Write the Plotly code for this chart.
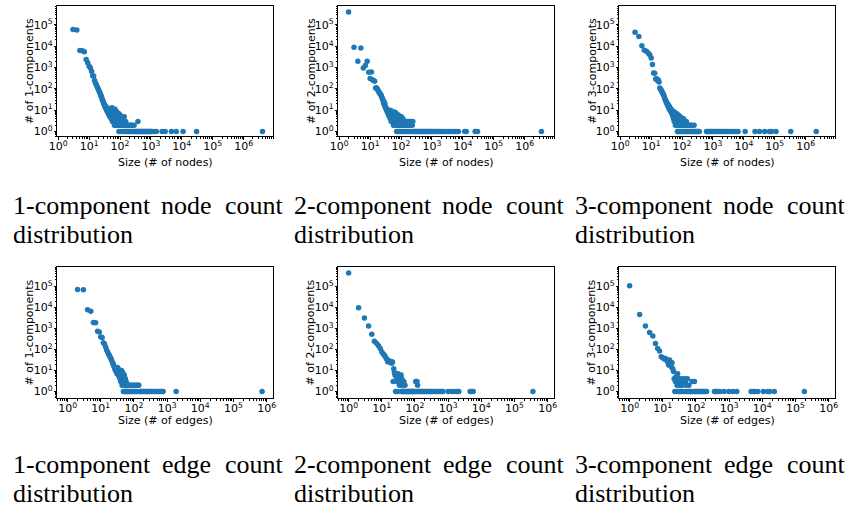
import plotly.graph_objects as go

# ---------------- data ----------------
# 1-component node counts
n1_size = [3, 4, 5, 6, 7, 8, 9, 10, 11, 12,
           13, 14, 15, 16, 17, 18, 19, 20, 21, 22,
           23, 24, 25, 26, 27, 28, 29, 30, 31, 32,
           33, 34, 35, 36, 37, 38, 39, 40, 41, 42,
           43, 44, 45, 46, 47, 48, 49, 50, 51, 52,
           53, 54, 55, 56, 57, 58, 59, 60, 61, 62,
           63, 64, 65, 66, 67, 68, 69, 70, 71, 72,
           73, 74, 75, 76, 77, 78, 79, 80, 82, 84,
           86, 88, 90, 92, 94, 96, 98, 100, 103, 106,
           109, 112, 115, 118, 121, 125, 129, 133, 137, 142,
           147, 152, 158, 164, 170, 177, 184, 192, 200, 210,
           220, 230, 240, 255, 270, 285, 300, 320, 340, 360,
           380, 400, 425, 450, 480, 510, 540, 580, 620, 660,
           700, 750, 800, 860, 920, 980, 1050, 1250, 1500, 2300,
           2900, 4600, 6600, 11000, 30000, 4100000]
n1_count = [62000, 58000, 6300, 6100, 5500, 2400, 1700, 1150, 950, 680,
            420, 400, 250, 190, 160, 130, 110, 95, 80, 68,
            58, 50, 42, 36, 30, 27, 24, 20, 18, 16,
            14, 13, 15, 11, 10, 12, 9, 8, 11, 7,
            9, 6, 10, 8, 5, 12, 7, 6, 9, 4,
            8, 5, 13, 6, 3, 7, 9, 4, 6, 10,
            3, 5, 8, 2, 6, 4, 11, 3, 5, 7,
            2, 4, 9, 3, 6, 2, 5, 8, 3, 6,
            2, 4, 7, 1, 5, 3, 2, 6, 4, 2,
            5, 1, 3, 2, 4, 1, 3, 2, 5, 1,
            2, 3, 1, 2, 1, 2, 1, 2, 1, 2,
            1, 2, 1, 2, 1, 2, 1, 1, 1, 1,
            3, 1, 1, 1, 1, 1, 1, 1, 1, 1,
            1, 1, 1, 1, 1, 1, 1, 1, 1, 1,
            1, 1, 1, 1, 1, 1]

# 2-component node counts
n2_size = [2, 3, 4, 5, 6, 7, 8, 9, 10, 11,
           12, 13, 14, 15, 16, 17, 18, 19, 20, 21,
           22, 23, 24, 25, 26, 27, 28, 29, 30, 31,
           32, 33, 34, 35, 36, 37, 38, 39, 40, 41,
           42, 43, 44, 45, 46, 47, 48, 49, 50, 51,
           52, 53, 54, 55, 56, 57, 58, 59, 60, 61,
           62, 63, 64, 65, 66, 67, 68, 69, 70, 71,
           72, 73, 74, 75, 76, 77, 78, 79, 80, 82,
           84, 86, 88, 90, 92, 94, 96, 98, 100, 103,
           106, 109, 112, 115, 118, 121, 125, 129, 133, 137,
           142, 147, 152, 158, 164, 170, 177, 184, 192, 200,
           210, 220, 230, 240, 250, 270, 290, 310, 340, 370,
           400, 440, 480, 520, 570, 620, 680, 740, 810, 880,
           960, 1050, 1150, 1300, 1450, 1600, 1800, 2000, 2300, 2600,
           3000, 3500, 4000, 5000, 6000, 7200, 11500, 13000, 25000, 30000,
           3500000]
n2_count = [400000, 9000, 2000, 8300, 970, 1250, 2000, 600, 310, 620,
            260, 250, 230, 110, 115, 100, 85, 75, 65, 60,
            55, 48, 40, 35, 30, 22, 25, 17, 20, 14,
            13, 11, 12, 9, 10, 8, 7, 9, 6, 8,
            5, 7, 10, 4, 6, 8, 3, 5, 7, 9,
            4, 6, 3, 8, 5, 2, 6, 4, 7, 3,
            5, 2, 8, 4, 6, 3, 5, 2, 7, 4,
            1, 5, 3, 6, 2, 4, 1, 5, 3, 6,
            2, 4, 1, 5, 3, 2, 4, 1, 3, 5,
            2, 3, 1, 4, 2, 3, 1, 2, 3, 1,
            2, 3, 1, 2, 3, 1, 2, 3, 1, 2,
            3, 1, 2, 3, 1, 1, 1, 1, 1, 1,
            1, 1, 1, 1, 1, 1, 1, 1, 1, 1,
            1, 1, 1, 1, 1, 1, 1, 1, 1, 1,
            1, 1, 1, 1, 1, 1, 1, 1, 1, 1,
            1]

# 3-component node counts
n3_size = [3, 4, 5, 6, 7, 8, 9, 10, 11, 12,
           13, 14, 15, 16, 17, 18, 19, 20, 21, 22,
           23, 24, 25, 26, 27, 28, 29, 30, 31, 32,
           33, 34, 35, 36, 37, 38, 39, 40, 41, 42,
           43, 44, 45, 46, 47, 48, 49, 50, 51, 52,
           53, 54, 55, 56, 57, 58, 59, 60, 61, 62,
           63, 64, 65, 66, 67, 68, 69, 70, 71, 72,
           73, 74, 75, 76, 77, 78, 79, 80, 82, 84,
           86, 88, 90, 92, 94, 96, 98, 100, 103, 106,
           109, 112, 115, 118, 121, 125, 129, 133, 137, 142,
           147, 152, 158, 164, 170, 177, 184, 192, 200, 210,
           220, 230, 245, 260, 280, 300, 330, 360, 620, 680,
           750, 820, 900, 1000, 1100, 1250, 1400, 1600, 1800, 2000,
           2300, 2600, 3000, 3400, 4000, 4700, 5500, 6500, 11000, 23000,
           32000, 47000, 67000, 80000, 110000, 330000, 2200000]
n3_count = [45000, 29000, 10700, 6500, 5800, 4900, 4000, 2800, 1400, 560,
            550, 290, 300, 250, 260, 210, 110, 100, 88, 75,
            70, 60, 55, 48, 38, 35, 30, 27, 24, 22,
            20, 17, 19, 15, 14, 12, 15, 11, 10, 12,
            9, 11, 8, 10, 7, 9, 6, 8, 5, 9,
            4, 7, 6, 3, 8, 5, 4, 7, 2, 6,
            4, 5, 3, 7, 2, 5, 4, 6, 1, 3,
            5, 2, 4, 6, 1, 3, 5, 2, 4, 1,
            3, 5, 2, 4, 1, 3, 2, 4, 1, 3,
            2, 4, 1, 2, 3, 1, 2, 1, 3, 2,
            1, 2, 1, 2, 1, 2, 1, 2, 1, 2,
            1, 1, 2, 1, 1, 1, 1, 1, 1, 1,
            1, 1, 1, 1, 1, 1, 1, 1, 1, 1,
            1, 1, 1, 1, 1, 1, 1, 1, 1, 1,
            1, 1, 1, 1, 1, 1, 1]

# 1-component edge counts
e1_size = [2, 3, 4, 5, 6, 7, 8, 9, 10, 11,
           12, 13, 14, 15, 16, 17, 18, 19, 20, 21,
           22, 23, 24, 25, 26, 27, 28, 29, 30, 31,
           32, 33, 34, 35, 36, 37, 38, 39, 40, 41,
           42, 43, 44, 45, 46, 47, 48, 49, 50, 51,
           52, 53, 54, 55, 56, 57, 58, 59, 60, 62,
           64, 66, 68, 70, 72, 75, 78, 81, 84, 88,
           92, 96, 100, 105, 110, 115, 120, 126, 132, 140,
           150, 160, 170, 180, 195, 210, 225, 240, 260, 280,
           300, 330, 360, 400, 440, 480, 530, 580, 640, 700,
           760, 1870, 730000]
e1_count = [70000, 68000, 7600, 6600, 1900, 1850, 730, 680, 390, 370,
            205, 180, 130, 95, 75, 62, 53, 45, 38, 31,
            27, 22, 19, 16, 14, 11, 13, 9, 10, 7,
            14, 8, 6, 11, 5, 9, 4, 7, 3, 6,
            10, 4, 2, 5, 8, 3, 1, 4, 2, 6,
            3, 1, 2, 4, 1, 2, 3, 1, 2, 1,
            2, 1, 2, 1, 2, 1, 2, 1, 2, 1,
            2, 1, 2, 1, 2, 1, 2, 1, 2, 2,
            1, 1, 1, 1, 1, 1, 1, 1, 1, 1,
            1, 1, 1, 1, 1, 1, 1, 1, 1, 1,
            1, 1, 1]

# 2-component edge counts
e2_size = [1, 2, 3, 4, 5, 6, 7, 8, 9, 10,
           11, 12, 13, 14, 15, 16, 17, 18, 19, 20,
           21, 22, 23, 24, 25, 26, 27, 28, 29, 30,
           31, 32, 33, 34, 35, 36, 37, 38, 39, 40,
           41, 42, 43, 44, 45, 46, 48, 50, 52, 55,
           58, 60, 63, 66, 70, 74, 78, 82, 86, 90,
           95, 100, 105, 110, 115, 120, 125, 132, 140, 150,
           160, 170, 180, 195, 210, 225, 240, 260, 280, 300,
           330, 360, 400, 440, 480, 530, 580, 640, 700, 1000,
           1300, 1550, 1850, 2100, 4600, 5100, 5700, 360000]
e2_count = [430000, 9500, 3100, 1300, 520, 245, 190, 150, 110, 77,
            60, 53, 42, 35, 26, 30, 25, 24, 27, 22,
            25, 3, 12, 8, 6, 1, 5, 7, 3, 1,
            7, 5, 6, 2, 4, 5, 2, 6, 1, 4,
            1, 3, 1, 2, 1, 3, 1, 2, 1, 1,
            1, 1, 1, 1, 1, 1, 1, 1, 1, 1,
            1, 1, 3, 1, 3, 2, 1, 1, 1, 1,
            1, 1, 1, 1, 1, 1, 1, 1, 1, 1,
            1, 1, 1, 1, 1, 1, 1, 1, 1, 1,
            1, 1, 1, 1, 1, 1, 1, 1]

# 3-component edge counts
e3_size = [1, 2, 3, 4, 5, 6, 7, 8, 9, 10,
           11, 12, 13, 14, 15, 16, 17, 18, 19, 20,
           21, 22, 23, 24, 25, 26, 27, 28, 29, 30,
           31, 32, 33, 34, 35, 36, 37, 38, 40, 42,
           44, 46, 48, 50, 52, 55, 58, 61, 64, 68,
           72, 76, 80, 85, 90, 95, 100, 108, 116, 125,
           135, 145, 155, 165, 180, 195, 210, 360, 400, 440,
           520, 700, 980, 1300, 1700, 4600, 5300, 5900, 7300, 10700,
           14500, 16500, 23000, 185000]
e3_count = [107000, 4600, 1300, 630, 440, 190, 110, 85, 45, 40,
            35, 37, 31, 26, 18, 31, 22, 15, 23, 12,
            9, 4, 1, 3, 5, 1, 2, 7, 2, 1,
            4, 3, 1, 2, 3, 1, 4, 2, 1, 3,
            4, 1, 3, 2, 1, 4, 1, 2, 1, 1,
            1, 3, 1, 1, 3, 1, 1, 1, 1, 1,
            1, 1, 1, 1, 1, 1, 1, 1, 1, 1,
            1, 1, 1, 1, 1, 1, 1, 1, 1, 1,
            1, 1, 1, 1]

ytitles = ["# of 1-components", "# of 2-components", "# of 3-components"]
xtitles = ["Size (# of nodes)", "Size (# of edges)"]
captions_top = [["1-component", "node", "count"], ["2-component", "node", "count"],
                ["3-component", "node", "count"]]
captions_bot = [["1-component", "edge", "count"], ["2-component", "edge", "count"],
                ["3-component", "edge", "count"]]
caption_line2 = "distribution"

tick_vals = [1, 10, 100, 1000, 10000, 100000, 1000000]
tick_text = ["10<sup>0</sup>", "10<sup>1</sup>", "10<sup>2</sup>", "10<sup>3</sup>",
             "10<sup>4</sup>", "10<sup>5</sup>", "10<sup>6</sup>"]
minor_vals = [m * 10 ** k for k in range(-1, 8) for m in range(2, 10)]

# ---------------- layout geometry ----------------
W, H = 859, 509
BLUE = "#1f77b4"
TICKFONT = dict(family="DejaVu Sans", size=11, color="black")
TITLEFONT = dict(family="DejaVu Sans", size=11, color="black")
CAPFONT = dict(family="Liberation Serif", size=26, color="black")

def px(x):
    return x / W

def py(y):
    return 1 - y / H

col_left = [49, 334, 619]
col_w = 219
rows = [dict(top=6, bot=137, xr=[-0.03, 6.96], yr=[-0.23, 5.89], xt=163),
        dict(top=268, bot=400, xr=[-0.31, 6.2], yr=[-0.33, 5.92], xt=422)]

series = [(n1_size, n1_count), (n2_size, n2_count), (n3_size, n3_count),
          (e1_size, e1_count), (e2_size, e2_count), (e3_size, e3_count)]

fig = go.Figure()
annotations = []

for i, (xs, ys) in enumerate(series):
    r, c = divmod(i, 3)
    idx = i + 1
    xa = "x" if idx == 1 else f"x{idx}"
    ya = "y" if idx == 1 else f"y{idx}"
    fig.add_trace(go.Scatter(x=xs, y=ys, mode="markers", xaxis=xa, yaxis=ya,
                             marker=dict(color=BLUE, size=5.5, line=dict(width=0)),
                             showlegend=False))
    row = rows[r]
    axcommon = dict(type="log", showgrid=False, zeroline=False, showline=True,
                    linecolor="black", linewidth=1, mirror=True,
                    ticks="outside", ticklen=2.5, tickwidth=0.8, tickcolor="black",
                    tickmode="array", tickvals=tick_vals, ticktext=tick_text,
                    tickfont=TICKFONT,
                    minor=dict(tickmode="array", tickvals=minor_vals, ticks="outside",
                               ticklen=1.5, tickwidth=0.6, tickcolor="black", showgrid=False))
    fig.layout[("xaxis" if idx == 1 else f"xaxis{idx}")] = dict(
        axcommon, domain=[px(col_left[c]), px(col_left[c] + col_w)],
        range=row["xr"], anchor=ya, ticklabelstandoff=-3)
    fig.layout[("yaxis" if idx == 1 else f"yaxis{idx}")] = dict(
        axcommon, domain=[py(row["bot"]), py(row["top"])],
        range=row["yr"], anchor=xa, ticklabelstandoff=-1)
    # axis titles
    cx = col_left[c] + col_w / 2
    annotations.append(dict(text=xtitles[r], x=px(cx), y=py(row["xt"]),
                            xref="paper", yref="paper", showarrow=False,
                            xanchor="center", yanchor="middle", font=TITLEFONT))
    annotations.append(dict(text=ytitles[c], x=px(col_left[c] - 28),
                            y=py((row["top"] + row["bot"]) / 2),
                            xref="paper", yref="paper", showarrow=False, textangle=-90,
                            xanchor="center", yanchor="middle", font=TITLEFONT))

# captions (justified words)
for r, caps in enumerate([captions_top, captions_bot]):
    y1 = 206 if r == 0 else 466
    y2 = 235 if r == 0 else 495
    for c, words in enumerate(caps):
        off = 285 * c
        annotations.append(dict(text=words[0], x=px(2 + off), y=py(y1), xref="paper",
                                yref="paper", showarrow=False, xanchor="left",
                                yanchor="middle", font=CAPFONT))
        annotations.append(dict(text=words[1], x=px(180 + off), y=py(y1), xref="paper",
                                yref="paper", showarrow=False, xanchor="center",
                                yanchor="middle", font=CAPFONT))
        annotations.append(dict(text=words[2], x=px(281 + off), y=py(y1), xref="paper",
                                yref="paper", showarrow=False, xanchor="right",
                                yanchor="middle", font=CAPFONT))
        annotations.append(dict(text=caption_line2, x=px(2 + off), y=py(y2), xref="paper",
                                yref="paper", showarrow=False, xanchor="left",
                                yanchor="middle", font=CAPFONT))

fig.update_layout(width=W, height=H, margin=dict(l=0, r=0, t=0, b=0),
                  paper_bgcolor="white", plot_bgcolor="white",
                  annotations=annotations, showlegend=False)

fig.write_html("out.html")
